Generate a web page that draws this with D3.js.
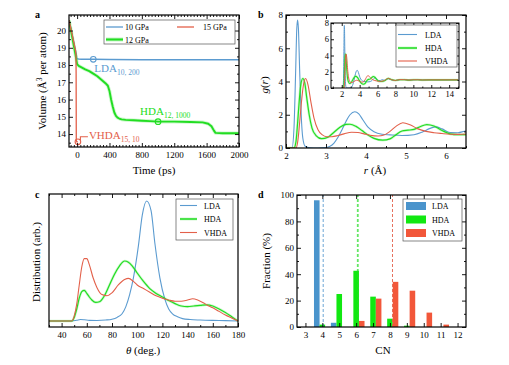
<!DOCTYPE html>
<html><head><meta charset="utf-8">
<script src="https://cdn.jsdelivr.net/npm/d3@7"></script>
<style>body{margin:0;background:#fff} svg{display:block} text{font-family:"Liberation Serif","Times New Roman",serif;font-weight:normal}</style>
</head><body><svg id="c" width="509" height="365" font-family="Liberation Serif"></svg>
<script>
// ---------- Panel a: volume vs time ----------
const timeLDA = [-100,-75,-50,-25,-10,-4,0,20,50,100,200,400,800,1200,1600,2000];
const volLDA  = [20.6,20.05,19.5,18.95,18.6,18.38,18.36,18.35,18.34,18.33,18.33,18.32,18.31,18.3,18.3,18.3];
const timeHDA = [-100,-60,-20,0,20,60,100,150,200,250,300,350,380,400,420,440,460,480,500,520,550,600,700,800,900,1000,1200,1400,1550,1620,1660,1690,1710,1800,1900,2000];
const volHDA  = [20.6,19.6,18.6,18.05,17.95,17.85,17.75,17.65,17.5,17.35,17.15,16.95,16.8,16.5,16.0,15.6,15.25,15.05,14.95,14.9,14.85,14.82,14.8,14.77,14.75,14.72,14.72,14.7,14.68,14.6,14.45,14.2,14.07,14.05,14.05,14.05];
const timeVHDA = [-100,-60,-20,-14,-12,-11,-10,-8,0,10];
const volVHDA  = [20.6,19.75,18.85,18.6,17.5,15.5,13.7,13.56,13.55,13.55];
const pressureLabels = ["10 GPa","12 GPa","15 GPa"];
const markTimes = [200,1000,10];
const markVols = [18.33,14.72,13.55];

// ---------- Panel b: g(r) ----------
const rLDA = [2.0,2.15,2.2,2.24,2.27,2.29,2.31,2.34,2.38,2.42,2.48,2.6,2.8,3.0,3.1,3.2,3.3,3.4,3.5,3.6,3.72,3.82,3.92,4.05,4.2,4.4,4.6,4.9,5.2,5.4,5.6,5.75,5.9,6.1,6.3,6.5,6.8,7.2,7.6,8.0,8.5,9.0,9.5,10,10.5,11,11.5,12,13,14,15];
const gLDA = [0,0,1.2,4.5,7.2,7.7,7.2,4.8,2.0,0.6,0.1,0.01,0,0.03,0.1,0.3,0.65,1.1,1.6,2.0,2.18,2.05,1.7,1.25,0.98,0.83,0.79,0.75,0.8,0.95,1.18,1.27,1.15,0.93,0.92,1.02,0.95,1.15,0.98,0.92,1.03,1.05,0.97,1.0,1.03,0.98,1.0,1.01,1.0,1.0,1.0];
const rHDA = [2.0,2.2,2.25,2.29,2.33,2.37,2.42,2.47,2.52,2.58,2.65,2.75,2.89,3.05,3.2,3.35,3.5,3.6,3.75,3.9,4.05,4.2,4.42,4.6,4.75,4.9,5.05,5.2,5.35,5.52,5.7,5.9,6.1,6.3,6.5,6.8,7.2,7.6,8.0,8.5,9,9.5,10,10.5,11,12,13,14,15];
const gHDA = [0,0,0.4,1.5,2.8,3.8,4.18,3.9,3.0,2.0,1.2,0.75,0.56,0.65,0.95,1.25,1.42,1.43,1.3,1.05,0.78,0.58,0.47,0.55,0.8,1.02,1.07,1.12,1.28,1.41,1.32,1.05,0.85,0.8,0.8,0.9,1.18,1.02,0.93,1.03,1.02,0.97,1.01,1.02,0.99,1.0,1.0,1.0,1.0];
const rVHDA = [2.0,2.25,2.3,2.34,2.38,2.43,2.49,2.55,2.62,2.7,2.8,2.9,3.02,3.15,3.3,3.45,3.64,3.8,3.95,4.1,4.3,4.45,4.6,4.75,4.92,5.1,5.3,5.5,5.7,5.9,6.1,6.3,6.5,6.8,7.2,7.6,8.0,8.5,9.0,9.5,10,10.5,11,12,13,14,15];
const gVHDA = [0,0,0.5,1.5,2.6,3.7,4.18,3.8,2.8,1.8,1.1,0.8,0.68,0.68,0.75,0.85,0.95,0.93,0.85,0.77,0.72,0.78,1.0,1.3,1.52,1.4,1.15,1.0,0.92,0.87,0.83,0.82,0.84,0.95,1.18,1.0,0.94,1.03,1.02,0.98,1.01,1.01,0.99,1.0,1.0,1.0,1.0];
const phaseNames = ["LDA","HDA","VHDA"];

// ---------- Panel c: bond angle distribution ----------
const thLDA = [30,48,52,55,58,62,68,75,80,84,88,91,94,97,101,104,107.5,111,114,118,122,125,128,132,136,142,150,160,170,180];
const dLDA  = [0,0,0.006,0.012,0.01,0.005,0.004,0.008,0.015,0.03,0.06,0.12,0.22,0.36,0.63,0.88,1.0,0.92,0.65,0.36,0.18,0.1,0.06,0.035,0.02,0.012,0.008,0.005,0.003,0];
const thHDA = [30,48,50,52,54,56,58,60,62,64,67,70,74,78,82,86,90,93,96,100,105,110,115,120,125,130,135,140,145,150,155,160,165,170,175,180];
const dHDA  = [0,0,0.03,0.1,0.19,0.245,0.255,0.23,0.2,0.175,0.155,0.16,0.21,0.3,0.39,0.46,0.5,0.49,0.46,0.4,0.33,0.27,0.23,0.2,0.17,0.145,0.125,0.12,0.125,0.13,0.135,0.125,0.1,0.07,0.035,0];
const thVHDA = [30,48,50,52,54,56,58,60,62,65,68,72,76,80,85,90,93,97,100,105,110,115,120,125,130,135,140,144,148,152,156,160,165,170,175,180];
const dVHDA  = [0,0,0.04,0.14,0.3,0.45,0.52,0.52,0.47,0.36,0.28,0.22,0.21,0.235,0.3,0.345,0.355,0.33,0.3,0.27,0.24,0.21,0.19,0.175,0.165,0.165,0.175,0.185,0.175,0.155,0.13,0.11,0.08,0.05,0.025,0];

// ---------- Panel d: coordination number ----------
const cnValues = [3,4,5,6,7,8,9,10,11,12];
const fracLDA  = [0,96,3.2,0,0,0,0,0,0,0];
const fracHDA  = [0,1.8,25,42.6,23,6.3,1,0,0,0];
const fracVHDA = [0,0,0,4.6,21.5,34.2,27.5,10.9,1.8,0];
const meanCN = [4.05,6.1,8.15];

// ---------- styles ----------
const COL = ["#5b9bd0","#22dd22","#e3604a"];
const BAR = ["#4a94cc","#11e811","#f2573a"];
const svg = d3.select("#c");
const FONT = '"Liberation Serif","Times New Roman",serif';

function axes(g, x, y, o) {
  const yb = y.range()[0], yt = y.range()[1], xl = x.range()[0], xr = x.range()[1];
  const M = o.major || 4, m = o.minor || 2, fs = o.fs || 9;
  const put = (tr, ax) => {
    const a = g.append("g").attr("transform", tr).call(ax);
    a.select(".domain").remove();
    a.selectAll("line").attr("stroke", "#000").attr("stroke-width", 0.9);
    a.selectAll("text").attr("font-family", FONT).attr("font-size", fs).attr("fill", "#000");
    a.attr("font-family", null).attr("font-size", null);
    return a;
  };
  if (o.xMajor) {
    put(`translate(0,${yb})`, d3.axisBottom(x).tickValues(o.xMajor).tickSize(-M).tickPadding(o.xPad || 4.5).tickFormat(o.xFmt || d3.format("d")));
    put(`translate(0,${yt})`, d3.axisTop(x).tickValues(o.xMajor).tickSize(-M).tickFormat(""));
  }
  if (o.xMinor) {
    put(`translate(0,${yb})`, d3.axisBottom(x).tickValues(o.xMinor).tickSize(-m).tickFormat(""));
    put(`translate(0,${yt})`, d3.axisTop(x).tickValues(o.xMinor).tickSize(-m).tickFormat(""));
  }
  if (o.yMajor) {
    put(`translate(${xl},0)`, d3.axisLeft(y).tickValues(o.yMajor).tickSize(-M).tickPadding(o.yPad || 3).tickFormat(o.yFmt || d3.format("d")));
    put(`translate(${xr},0)`, d3.axisRight(y).tickValues(o.yMajor).tickSize(-M).tickFormat(""));
  }
  if (o.yMinor) {
    put(`translate(${xl},0)`, d3.axisLeft(y).tickValues(o.yMinor).tickSize(-m).tickFormat(""));
    put(`translate(${xr},0)`, d3.axisRight(y).tickValues(o.yMinor).tickSize(-m).tickFormat(""));
  }
  g.append("rect").attr("x", xl).attr("y", yt).attr("width", xr - xl).attr("height", yb - yt)
    .attr("fill", "none").attr("stroke", "#000").attr("stroke-width", o.fw || 1.2);
}
const range = (a, b, s) => d3.range(a, b + s / 2, s);
function label(x, y, txt, opts = {}) {
  const t = svg.append("text").attr("x", x).attr("y", y).attr("font-size", opts.fs || 11)
    .attr("text-anchor", opts.anchor || "middle").attr("fill", "#000");
  if (opts.rot) t.attr("transform", `rotate(-90,${x},${y})`);
  return t;
}
function drawLine(g, xs, ys, x, y, color, w, glow, curve) {
  const pts = xs.map((d, i) => [d, ys[i]]);
  const gen = d3.line().x(d => x(d[0])).y(d => y(d[1])).curve(curve || d3.curveMonotoneX);
  if (glow) g.append("path").attr("d", gen(pts)).attr("fill", "none").attr("stroke", color).attr("stroke-width", glow).attr("stroke-opacity", 0.22).attr("stroke-linejoin", "round");
  g.append("path").attr("d", gen(pts)).attr("fill", "none").attr("stroke", color).attr("stroke-width", w).attr("stroke-linejoin", "round");
}
function legend(g, x0, y0, w, h, rows, names, type) {
  g.append("rect").attr("x", x0).attr("y", y0).attr("width", w).attr("height", h).attr("fill", "#fff").attr("stroke", "#555").attr("stroke-width", 0.7);
  names.forEach((n, i) => {
    const r = rows[i];
    if (type === "bar") {
      g.append("rect").attr("x", r.lx).attr("y", r.y - 4).attr("width", r.lw).attr("height", 8).attr("fill", BAR[i]);
    } else {
      if (i === 1) g.append("line").attr("x1", r.lx).attr("x2", r.lx + r.lw).attr("y1", r.y).attr("y2", r.y).attr("stroke", COL[i]).attr("stroke-width", 2.8).attr("stroke-opacity", 0.25);
      g.append("line").attr("x1", r.lx).attr("x2", r.lx + r.lw).attr("y1", r.y).attr("y2", r.y).attr("stroke", COL[i]).attr("stroke-width", i === 1 ? 1.5 : 1.1);
    }
    g.append("text").attr("x", r.tx).attr("y", r.y + 3).attr("font-size", 8).text(n);
  });
}

// ================= Panel a =================
{
  const g = svg.append("g");
  const x = d3.scaleLinear().domain([-100, 2000]).range([69, 239]);
  const y = d3.scaleLinear().domain([13.25, 20.9]).range([147, 15]);
  svg.append("clipPath").attr("id", "clipA").append("rect").attr("x", 69).attr("y", 15).attr("width", 170).attr("height", 132);
  const pg = g.append("g").attr("clip-path", "url(#clipA)");
  drawLine(pg, timeLDA, volLDA, x, y, COL[0], 1.5, 0, d3.curveLinear);
  drawLine(pg, timeHDA, volHDA, x, y, COL[1], 1.9, 3.6, d3.curveLinear);
  drawLine(pg, timeVHDA, volVHDA, x, y, COL[2], 1.3, 0, d3.curveLinear);
  markTimes.forEach((t, i) => {
    g.append("circle").attr("cx", x(t)).attr("cy", y(markVols[i])).attr("r", 2.8).attr("fill", "none").attr("stroke", COL[i]).attr("stroke-width", 1.1);
  });
  const ann = [["LDA", "10, 200", 1, 13], ["HDA", "12, 1000", -18, -7], ["VHDA", "15, 10", 11, -3]];
  ann.forEach((a, i) => {
    const t = g.append("text").attr("x", x(markTimes[i]) + a[2]).attr("y", y(markVols[i]) + a[3]).attr("font-size", 11).attr("fill", COL[i]);
    t.append("tspan").text(a[0]);
    t.append("tspan").attr("dy", 3).attr("font-size", 7.5).text(a[1]);
  });
  const cx = x(markTimes[2]), cy = y(markVols[2]);
  g.append("path").attr("d", `M${cx + 2.5},${cy - 1.5}L${cx + 2.5},${cy - 5}L${cx + 10},${cy - 5}`).attr("fill", "none").attr("stroke", COL[2]).attr("stroke-width", 1.1);
  axes(g, x, y, { xMajor: range(0, 2000, 400), xMinor: range(-80, 2000, 40).filter(v => v % 400 !== 0),
    yMajor: range(14, 20, 1), yMinor: range(13.5, 20.5, 1) });
  g.append("rect").attr("x", 104).attr("y", 20).attr("width", 131).attr("height", 24).attr("fill", "#fff").attr("stroke", "#555").attr("stroke-width", 0.7);
  const lrows = [{ lx: 106, y: 27, tx: 125 }, { lx: 106, y: 39.5, tx: 125 }, { lx: 177, y: 27, tx: 203 }];
  lrows.forEach((r, i) => {
    if (i === 1) g.append("line").attr("x1", r.lx).attr("x2", r.lx + 17).attr("y1", r.y).attr("y2", r.y).attr("stroke", COL[i]).attr("stroke-width", 4).attr("stroke-opacity", 0.25);
    g.append("line").attr("x1", r.lx).attr("x2", r.lx + 17).attr("y1", r.y).attr("y2", r.y).attr("stroke", COL[i]).attr("stroke-width", i === 1 ? 2.1 : 1.3);
    g.append("text").attr("x", r.tx).attr("y", r.y + 3).attr("font-size", 8).text(pressureLabels[i]);
  });
  label(154, 174, "").text("Time (ps)");
  const yl = label(46, 81, "", { rot: true });
  yl.append("tspan").text("Volume (Å");
  yl.append("tspan").attr("dy", -4.5).attr("font-size", 7.5).text("3");
  yl.append("tspan").attr("dy", 4.5).text(" per atom)");
  svg.append("text").attr("x", 35).attr("y", 18).attr("font-size", 10).style("font-weight", "bold").text("a");
}

// ================= Panel b =================
{
  const g = svg.append("g");
  const x = d3.scaleLinear().domain([2, 6.5]).range([286, 466]);
  const y = d3.scaleLinear().domain([0, 8]).range([148, 15]);
  svg.append("clipPath").attr("id", "clipB").append("rect").attr("x", 286).attr("y", 15).attr("width", 180).attr("height", 133);
  const pg = g.append("g").attr("clip-path", "url(#clipB)");
  drawLine(pg, rLDA, gLDA, x, y, COL[0], 1.1, 0);
  drawLine(pg, rHDA, gHDA, x, y, COL[1], 1.2, 2.6);
  drawLine(pg, rVHDA, gVHDA, x, y, COL[2], 1.1, 0);
  axes(g, x, y, { xMajor: range(2, 6, 1), xMinor: range(2.5, 6.5, 1), yMajor: range(0, 8, 2), yMinor: range(1, 7, 2) });
  const xi = d3.scaleLinear().domain([0.8, 15.1]).range([331, 459]);
  const yi = d3.scaleLinear().domain([0, 8]).range([88, 23]);
  g.append("rect").attr("x", 331).attr("y", 23).attr("width", 128).attr("height", 65).attr("fill", "#fff");
  svg.append("clipPath").attr("id", "clipI").append("rect").attr("x", 331).attr("y", 23).attr("width", 128).attr("height", 65);
  const ig = g.append("g").attr("clip-path", "url(#clipI)");
  drawLine(ig, rLDA, gLDA, xi, yi, COL[0], 1.0, 0);
  drawLine(ig, rHDA, gHDA, xi, yi, COL[1], 1.1, 2.4);
  drawLine(ig, rVHDA, gVHDA, xi, yi, COL[2], 1.0, 0);
  axes(g, xi, yi, { xMajor: range(2, 14, 2), xMinor: range(1, 15, 2), yMajor: range(0, 8, 2), yMinor: range(1, 7, 2), major: 3, minor: 1.5, fs: 8.5, xPad: 3, yPad: 2, fw: 1 });
  legend(g, 396, 25, 61, 42, [{ lx: 398, lw: 19, y: 34.5, tx: 425 }, { lx: 398, lw: 19, y: 48, tx: 425 }, { lx: 398, lw: 19, y: 61, tx: 425 }], phaseNames, "line");
  const xl = label(375, 174, "");
  xl.append("tspan").attr("font-style", "italic").text("r");
  xl.append("tspan").text(" (Å)");
  const yl = label(268, 85, "", { rot: true });
  yl.append("tspan").attr("font-style", "italic").text("g");
  yl.append("tspan").text("(");
  yl.append("tspan").attr("font-style", "italic").text("r");
  yl.append("tspan").text(")");
  svg.append("text").attr("x", 258).attr("y", 18).attr("font-size", 10).style("font-weight", "bold").text("b");
}

// ================= Panel c =================
{
  const g = svg.append("g");
  const x = d3.scaleLinear().domain([30, 180]).range([49, 238]);
  const y = d3.scaleLinear().domain([-0.05, 1.058]).range([327, 194]);
  drawLine(g, thLDA, dLDA, x, y, COL[0], 1.1, 0);
  drawLine(g, thHDA, dHDA, x, y, COL[1], 1.2, 2.6);
  drawLine(g, thVHDA, dVHDA, x, y, COL[2], 1.1, 0);
  axes(g, x, y, { xMajor: range(40, 180, 20), xMinor: range(30, 170, 20) });
  legend(g, 176, 199, 57, 41, [{ lx: 180, lw: 17, y: 205.5, tx: 204 }, { lx: 180, lw: 17, y: 219, tx: 204 }, { lx: 180, lw: 17, y: 232.5, tx: 204 }], phaseNames, "line");
  const xl = label(143, 354, "");
  xl.append("tspan").attr("font-style", "italic").text("θ");
  xl.append("tspan").text(" (deg.)");
  label(40, 262, "", { rot: true }).text("Distribution (arb.)");
  svg.append("text").attr("x", 35).attr("y", 198).attr("font-size", 10).style("font-weight", "bold").text("c");
}

// ================= Panel d =================
{
  const g = svg.append("g");
  const x = d3.scaleLinear().domain([2.5, 12.5]).range([297, 466]);
  const y = d3.scaleLinear().domain([0, 100]).range([327, 195]);
  const series = [fracLDA, fracHDA, fracVHDA];
  const bw = 0.33;
  series.forEach((s, k) => {
    g.append("g").selectAll("rect").data(cnValues.map((c, i) => [c, s[i]]).filter(d => d[1] > 0)).join("rect")
      .attr("x", d => x(d[0] + (k - 1) * bw - bw / 2)).attr("width", x(bw) - x(0))
      .attr("y", d => y(d[1])).attr("height", d => y(0) - y(d[1])).attr("fill", BAR[k]);
  });
  meanCN.forEach((m, k) => {
    if (k === 1) g.append("line").attr("x1", x(m)).attr("x2", x(m)).attr("y1", y(0)).attr("y2", y(100)).attr("stroke", COL[1]).attr("stroke-width", 2.4).attr("stroke-opacity", 0.25).attr("stroke-dasharray", "3,2");
    g.append("line").attr("x1", x(m)).attr("x2", x(m)).attr("y1", y(0)).attr("y2", y(100)).attr("stroke", COL[k]).attr("stroke-width", 0.9).attr("stroke-dasharray", "3,2");
  });
  axes(g, x, y, { xMajor: cnValues, yMajor: range(0, 100, 20), yMinor: range(10, 90, 20) });
  legend(g, 403, 199, 59, 42, [{ lx: 406, lw: 20, y: 206, tx: 432 }, { lx: 406, lw: 20, y: 219.5, tx: 432 }, { lx: 406, lw: 20, y: 233, tx: 432 }], phaseNames, "bar");
  label(383, 354, "").text("CN");
  label(270, 261, "", { rot: true }).text("Fraction (%)");
  svg.append("text").attr("x", 258).attr("y", 198).attr("font-size", 10).style("font-weight", "bold").text("d");
}
</script></body></html>
